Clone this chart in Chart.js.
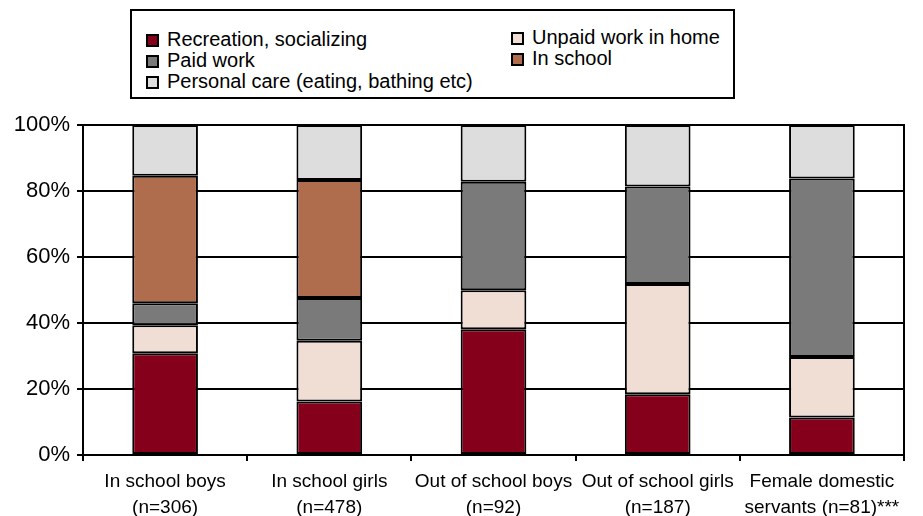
<!DOCTYPE html>
<html>
<head>
<meta charset="utf-8">
<script src="https://cdn.jsdelivr.net/npm/chart.js@4.4.1/dist/chart.umd.min.js"></script>
<style>
  body { margin: 0; background: #fff; }
  #wrap { position: relative; width: 923px; height: 516px; font-family: "Liberation Sans", Arial, sans-serif; }
  #legend {
    position: absolute; left: 130px; top: 9px; width: 601px; height: 86px;
    border: 2px solid #000; background: #fff;
  }
  .item { position: absolute; font-size: 20px; line-height: 21px; color: #000; white-space: nowrap; }
  .item span.box {
    display: inline-block; width: 9px; height: 9px; border: 2px solid #000;
    margin-right: 8px; vertical-align: -1px;
  }
</style>
</head>
<body>
<div id="wrap">
  <canvas id="chart" width="923" height="516"></canvas>
  <div id="legend"></div>
</div>
<script>
const categories = [
  ["In school boys", "(n=306)"],
  ["In school girls", "(n=478)"],
  ["Out of school boys", "(n=92)"],
  ["Out of school girls", "(n=187)"],
  ["Female domestic", "servants (n=81)***"]
];
const recreation   = [30.8, 16.2, 38.1, 18.4, 11.4];
const unpaidWork   = [8.5, 18.4, 11.8, 33.4, 18.3];
const paidWork     = [6.7, 13.0, 32.9, 29.6, 54.1];
const inSchool     = [38.6, 35.7, null, null, null];
const personalCare = [15.4, 16.7, 17.2, 18.6, 16.2];
const yTicks = [0, 20, 40, 60, 80, 100];

const font = "'Liberation Sans', Arial, sans-serif";

function ds(label, data, color) {
  return {
    label: label,
    data: data,
    backgroundColor: color,
    borderColor: "#000",
    borderWidth: 2,
    borderSkipped: false,
    categoryPercentage: 1,
    barPercentage: 0.4
  };
}

const chart = new Chart(document.getElementById("chart"), {
  type: 'bar',
  data: {
    labels: categories,
    datasets: [
      ds("Recreation, socializing", recreation, "#85001a"),
      ds("Unpaid work in home", unpaidWork, "#f0ddd3"),
      ds("Paid work", paidWork, "#7a7a7a"),
      ds("In school", inSchool, "#b06d4e"),
      ds("Personal care (eating, bathing etc)", personalCare, "#dddddd")
    ]
  },
  options: {
    responsive: false,
    animation: false,
    devicePixelRatio: 1,
    layout: { padding: { top: 125, right: 19, left: 0, bottom: 0 } },
    plugins: { legend: { display: false }, tooltip: { enabled: false } },
    scales: {
      x: {
        stacked: true,
        afterFit: function (s) { s.height = 61; },
        grid: { drawOnChartArea: false, drawTicks: true, tickLength: 6, color: "#000", lineWidth: 2, offset: true },
        border: { color: "#000", width: 2 },
        ticks: { color: "#000", padding: 8, maxRotation: 0, autoSkip: false, font: { family: font, size: 19, lineHeight: 1.35 } }
      },
      y: {
        stacked: true,
        min: 0,
        max: 100,
        afterFit: function (s) { s.width = 83; },
        afterBuildTicks: function (s) { s.ticks = yTicks.map(v => ({ value: v })); },
        grid: { color: "#000", lineWidth: 2, tickLength: 6 },
        border: { color: "#000", width: 2 },
        ticks: { color: "#000", padding: 7, font: { family: font, size: 22 }, callback: v => v + "%" }
      },
      y2: {
        position: "right",
        min: 0,
        max: 100,
        afterFit: function (s) { s.width = 0; },
        grid: { drawOnChartArea: false, drawTicks: false },
        border: { color: "#000", width: 2 },
        ticks: { display: false }
      }
    }
  }
});

// legend laid out like the original: two columns, row-major
const legend = document.getElementById("legend");
chart.data.datasets.forEach(function (d, i) {
  const col = i % 2, row = Math.floor(i / 2);
  const el = document.createElement("div");
  el.className = "item";
  el.style.left = (col ? 379 : 14) + "px";
  el.style.top = (row * 21 + (col ? 16 : 18)) + "px";
  const box = document.createElement("span");
  box.className = "box";
  box.style.background = d.backgroundColor;
  el.appendChild(box);
  el.appendChild(document.createTextNode(d.label));
  legend.appendChild(el);
});
</script>
</body>
</html>
